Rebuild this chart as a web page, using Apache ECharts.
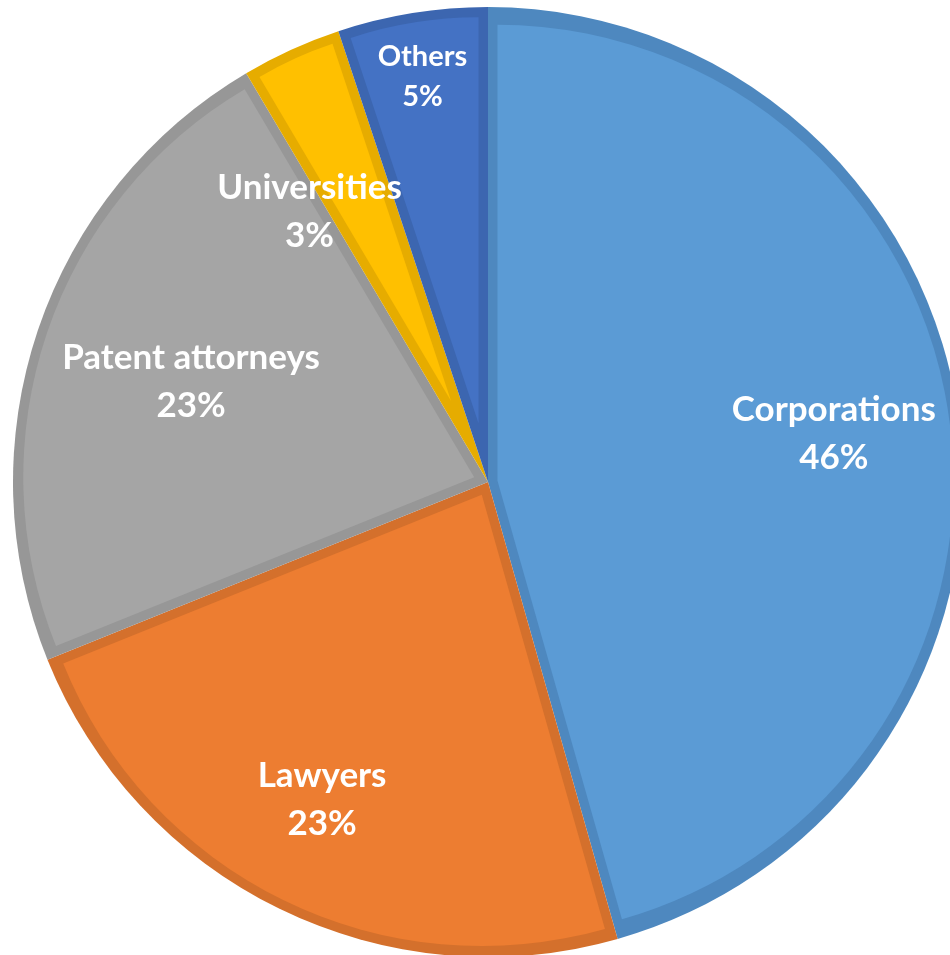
<!DOCTYPE html>
<html>
<head>
<meta charset="utf-8">
<script src="https://cdn.jsdelivr.net/npm/echarts@6/dist/echarts.min.js"></script>
<style>
html,body{margin:0;padding:0;background:#fff;}
#chart{width:950px;height:955px;}
</style>
</head>
<body>
<div id="chart"></div>
<script>
var categories = ['Corporations', 'Lawyers', 'Patent attorneys', 'Universities', 'Others'];
var values = [45.6, 23.3, 22.6, 3.4, 5.1];
var fillColors = ['#5B9BD5', '#ED7D31', '#A5A5A5', '#FFC000', '#4472C4'];
var borderColors = ['#4E88BF', '#D4702C', '#979797', '#E6AC00', '#3C66B0'];
// label placement: radius fraction and angle shift (degrees) per slice
var labelRadius = [0.735, 0.754, 0.66, 0.681, 0.865];
var labelShift = [0, 1.5, 0, -9, 0];
var labelFont = [35, 35, 35, 35, 29];
var labelLine = [48, 48, 48, 48, 40];

var CX = 488, CY = 482, R = 475, INSET = 9.5;
var total = values.reduce(function (a, b) { return a + b; }, 0);

function midAngle(i) {
  var cum = 0;
  for (var k = 0; k < i; k++) cum += values[k];
  return (cum + values[i] / 2) / total * 2 * Math.PI;
}

var series = [];

// base layer: full pie in border colours
series.push({
  type: 'pie',
  z: 1,
  silent: true,
  center: [CX, CY],
  radius: [0, R],
  startAngle: 90,
  clockwise: true,
  label: { show: false },
  labelLine: { show: false },
  emphasis: { disabled: true },
  data: categories.map(function (c, i) {
    return { name: c, value: values[i], itemStyle: { color: borderColors[i], borderWidth: 0 } };
  })
});

// inset fill layers: one per slice, apex moved along its bisector so the border band keeps an even width
categories.forEach(function (c, i) {
  var theta = values[i] / total * 2 * Math.PI;
  var s = theta < Math.PI ? INSET / Math.sin(theta / 2) : INSET;
  var phi = midAngle(i);
  series.push({
    type: 'pie',
    z: 2,
    silent: true,
    center: [CX + s * Math.sin(phi), CY - s * Math.cos(phi)],
    radius: [0, R - INSET - s],
    startAngle: 90,
    clockwise: true,
    label: { show: false },
    labelLine: { show: false },
    emphasis: { disabled: true },
    data: categories.map(function (c2, j) {
      return { name: c2, value: values[j], itemStyle: { color: j === i ? fillColors[j] : 'transparent', borderWidth: 0 } };
    })
  });
});

// label layer
series.push({
  type: 'pie',
  z: 3,
  silent: true,
  center: [CX, CY],
  radius: [0, R],
  startAngle: 90,
  clockwise: true,
  avoidLabelOverlap: false,
  emphasis: { disabled: true },
  data: categories.map(function (c, i) {
    return {
      name: c,
      value: values[i],
      itemStyle: { color: 'transparent', borderWidth: 0 },
      label: { fontSize: labelFont[i], lineHeight: labelLine[i] }
    };
  }),
  label: {
    show: true,
    position: 'inside',
    color: '#ffffff',
    fontFamily: 'Lato',
    fontWeight: 'bold',
    formatter: function (p) {
      return p.name + '\n' + Math.round(p.value / total * 100) + '%';
    }
  },
  labelLine: { show: false },
  labelLayout: function (params) {
    var i = params.dataIndex;
    var a = midAngle(i) + labelShift[i] * Math.PI / 180;
    var rr = R * labelRadius[i];
    return {
      x: CX + rr * Math.sin(a),
      y: CY - rr * Math.cos(a),
      align: 'center',
      verticalAlign: 'middle'
    };
  }
});

var chart = echarts.init(document.getElementById('chart'), null, { renderer: 'canvas' });
chart.setOption({ animation: false, series: series });
</script>
</body>
</html>
